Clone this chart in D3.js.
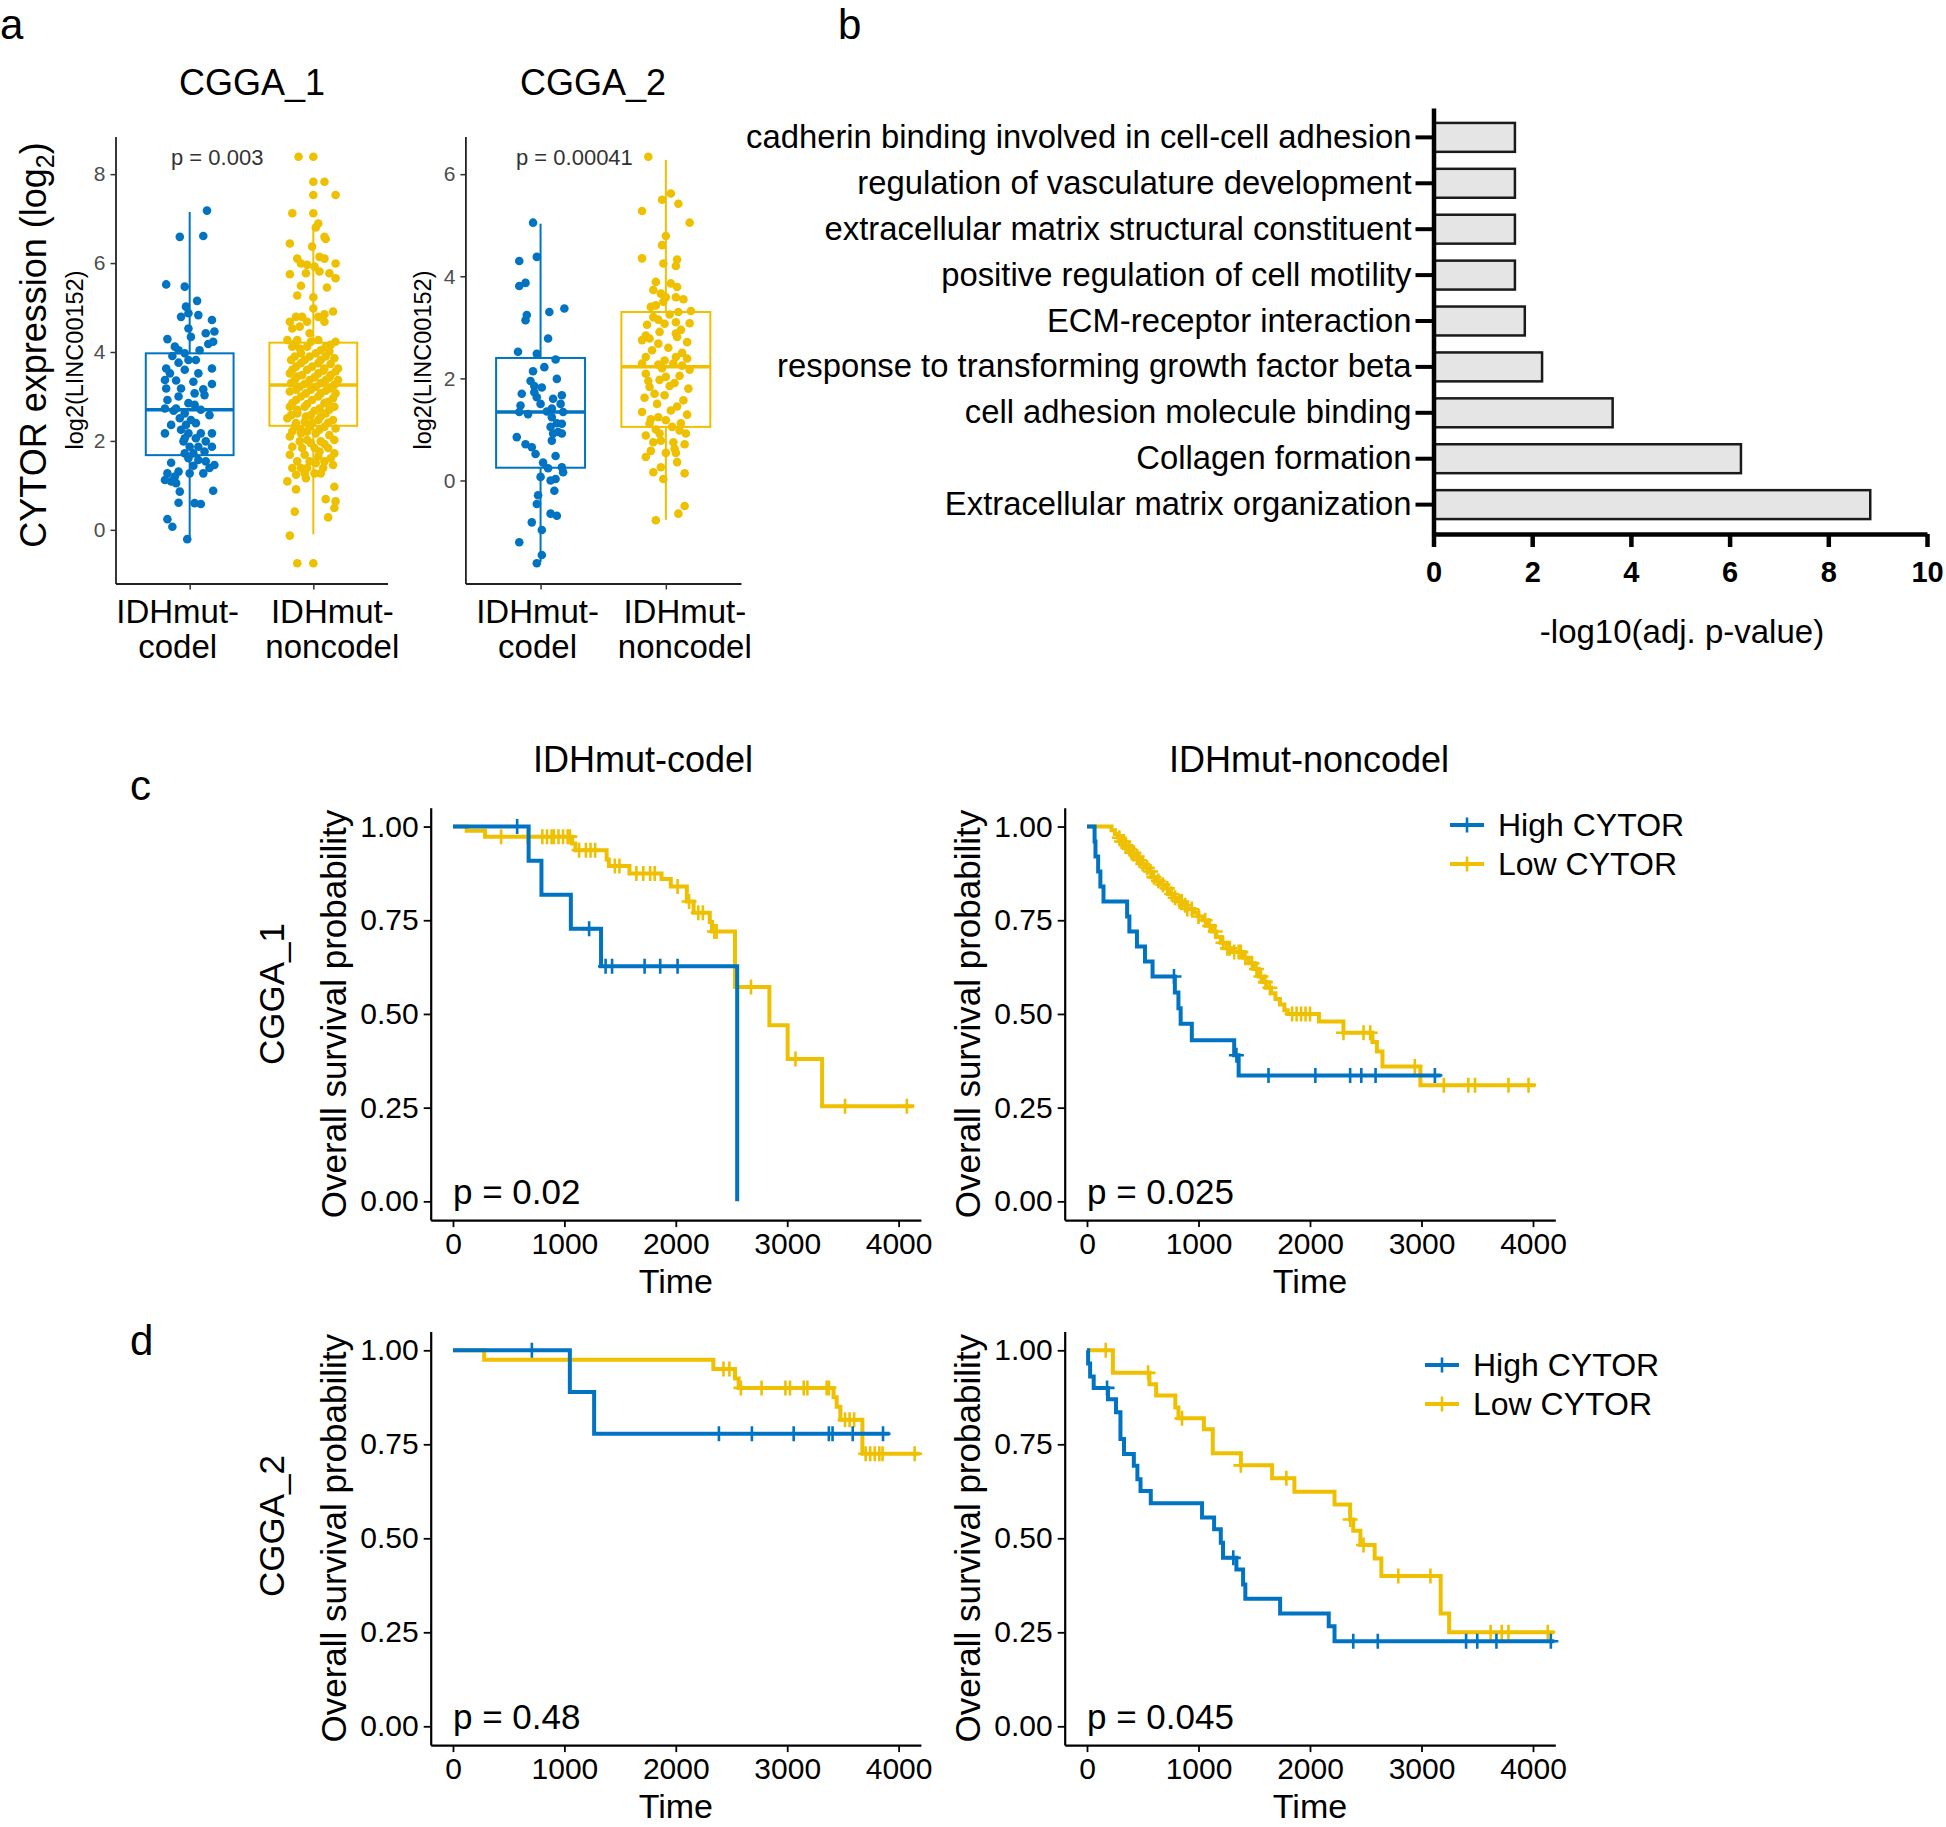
<!DOCTYPE html>
<html><head><meta charset="utf-8">
<script src="https://cdn.jsdelivr.net/npm/d3@7"></script>
<style>
body{margin:0;background:#fff}
svg{display:block}
text{font-family:"Liberation Sans", Arial, Helvetica, sans-serif}
</style>
</head><body>
<svg id="fig" width="1946" height="1827"></svg>
<script>
// ---------------- DATA ----------------
const BLUE = "#0073C2", YELLOW = "#EFC000";

// Panel a: boxplots
const boxTitles = ["CGGA_1", "CGGA_2"];
const boxCategories = ["IDHmut-codel", "IDHmut-noncodel"];
const boxPValues = ["p = 0.003", "p = 0.00041"];
const boxTicks1 = [0, 2, 4, 6, 8];
const boxTicks2 = [0, 2, 4, 6];
// [lower whisker, Q1, median, Q3, upper whisker]
const cgga1Box = [[-0.21, 1.68, 2.70, 3.97, 7.15], [-0.10, 2.34, 3.26, 4.21, 6.80]];
const cgga2Box = [[-1.60, 0.25, 1.34, 2.40, 5.03], [-0.77, 1.05, 2.23, 3.30, 6.28]];
// points: [jitter offset (category units), log2 value]
const cgga1Codel = [[0.14,7.18],[-0.08,6.59],[0.11,6.61],[-0.19,5.52],[-0.04,5.47],[0.06,5.15],[-0.03,5.02],[-0.07,4.79],[-0.01,4.87],[0.07,4.83],[0.18,4.72],[-0.01,4.53],[0.13,4.42],[0.20,4.46],[-0.18,4.29],[0.01,4.34],[0.19,4.23],[0.15,4.18],[-0.12,4.12],[-0.09,4.04],[-0.04,3.97],[0.08,4.04],[-0.14,3.91],[-0.01,3.82],[0.05,3.82],[-0.19,3.63],[-0.09,3.76],[-0.04,3.60],[0.18,3.63],[0.07,3.52],[-0.16,3.52],[-0.20,3.37],[-0.11,3.36],[0.03,3.33],[0.18,3.28],[-0.19,3.18],[-0.07,3.18],[0.11,3.16],[0.04,3.07],[-0.09,3.00],[-0.18,2.92],[0.12,3.03],[-0.01,2.85],[0.04,2.81],[-0.11,2.73],[-0.13,2.68],[-0.20,2.73],[-0.04,2.62],[0.09,2.70],[0.16,2.58],[-0.08,2.51],[0.01,2.47],[-0.15,2.36],[-0.03,2.36],[0.05,2.40],[-0.07,2.25],[-0.20,2.17],[-0.01,2.17],[0.09,2.17],[0.18,2.17],[-0.04,2.06],[0.05,2.06],[-0.05,1.99],[0.13,1.99],[0.00,1.87],[0.07,1.87],[0.18,1.87],[-0.04,1.72],[0.03,1.72],[0.12,1.76],[-0.01,1.61],[0.07,1.57],[-0.15,1.51],[0.13,1.54],[0.20,1.46],[0.03,1.44],[0.16,1.39],[-0.09,1.31],[0.00,1.27],[0.11,1.27],[-0.18,1.27],[-0.12,1.20],[-0.20,1.12],[-0.15,1.09],[-0.11,1.05],[-0.08,0.86],[0.19,0.88],[-0.09,0.61],[0.04,0.60],[0.09,0.58],[-0.18,0.24],[-0.14,0.07],[-0.02,-0.21]];
const cgga1Noncodel = [[-0.12,8.39],[0.00,8.39],[0.00,7.83],[0.09,7.83],[0.00,7.53],[0.18,7.53],[-0.17,7.12],[0.00,7.12],[0.04,6.89],[0.02,6.80],[0.09,6.59],[0.10,6.54],[-0.19,6.44],[-0.01,6.37],[-0.13,6.10],[0.05,6.14],[0.09,6.10],[-0.10,5.99],[-0.05,5.96],[0.18,5.99],[0.01,5.92],[-0.19,5.75],[-0.06,5.77],[0.05,5.81],[0.13,5.77],[0.18,5.66],[-0.10,5.49],[0.11,5.45],[-0.13,5.27],[0.00,5.23],[0.00,4.98],[0.16,4.91],[0.09,4.85],[-0.14,4.79],[-0.09,4.79],[0.04,4.79],[-0.19,4.68],[-0.05,4.68],[0.09,4.68],[-0.17,4.53],[-0.11,4.57],[-0.03,4.42],[-0.21,4.27],[-0.13,4.27],[0.04,4.27],[0.18,4.23],[-0.17,4.12],[-0.05,4.12],[0.10,4.12],[-0.10,3.97],[0.02,3.97],[0.13,4.01],[-0.18,3.82],[-0.07,3.82],[0.06,3.82],[0.17,3.86],[-0.14,3.67],[-0.01,3.67],[0.09,3.63],[0.20,3.63],[-0.19,3.52],[-0.09,3.48],[0.04,3.52],[0.14,3.48],[-0.15,3.37],[-0.03,3.37],[0.10,3.37],[0.20,3.37],[-0.11,3.22],[0.02,3.22],[0.13,3.18],[-0.19,3.11],[-0.06,3.07],[0.06,3.07],[0.18,3.07],[-0.14,2.92],[-0.01,2.92],[0.12,2.88],[-0.19,2.77],[-0.07,2.77],[0.05,2.73],[0.17,2.77],[-0.13,2.62],[-0.02,2.58],[0.10,2.62],[-0.21,2.51],[-0.07,2.43],[0.04,2.47],[0.16,2.47],[-0.15,2.32],[-0.03,2.32],[0.09,2.32],[0.18,2.28],[-0.10,2.17],[0.02,2.17],[0.13,2.13],[-0.19,2.10],[-0.05,2.02],[0.06,1.99],[0.17,2.02],[-0.17,1.87],[0.01,1.84],[0.12,1.84],[-0.19,1.69],[-0.07,1.69],[0.04,1.65],[0.17,1.72],[-0.13,1.54],[-0.03,1.54],[0.09,1.54],[-0.17,1.39],[-0.05,1.39],[0.08,1.39],[0.16,1.46],[-0.14,1.24],[0.01,1.27],[-0.21,1.09],[-0.06,1.16],[0.17,0.97],[-0.14,0.91],[0.10,0.69],[0.18,0.64],[0.17,0.49],[-0.15,0.41],[0.12,0.28],[-0.19,-0.13],[-0.13,-0.75],[0.00,-0.75],
[-0.15,4.19],[-0.02,4.23],[0.14,4.16],[-0.11,4.08],[0.06,4.04],[-0.15,3.90],[-0.03,3.90],[0.10,3.90],[-0.10,3.75],[0.04,3.75],[0.14,3.73],[-0.17,3.60],[-0.05,3.60],[0.08,3.58],[0.18,3.56],[-0.13,3.45],[0.01,3.43],[0.13,3.43],[-0.18,3.30],[-0.07,3.28],[0.06,3.30],[0.17,3.26],[-0.14,3.15],[-0.02,3.15],[0.10,3.13],[-0.10,3.00],[0.04,3.00],[0.16,2.96],[-0.17,2.85],[-0.05,2.83],[0.09,2.85],[-0.13,2.70],[0.01,2.68],[0.13,2.70],[-0.18,2.58],[-0.06,2.55],[0.06,2.55],[-0.14,2.40],[-0.01,2.40],[0.12,2.41],[-0.10,2.25],[0.05,2.25],[-0.05,2.21],[-0.17,2.21],[-0.11,1.99],[-0.02,1.95],[0.09,1.93],[-0.09,1.84],[0.05,1.76],[0.14,1.61],[-0.10,1.39],[0.02,1.50],[-0.07,1.27],[0.06,1.27]];
const cgga2Codel = [[-0.06,5.05],[-0.17,4.30],[-0.03,4.38],[-0.17,3.81],[-0.12,3.87],[-0.11,3.24],[-0.12,3.14],[0.07,3.30],[0.19,3.37],[0.06,2.78],[-0.18,2.52],[-0.03,2.48],[0.12,2.37],[-0.06,2.14],[0.03,2.22],[-0.08,1.95],[0.13,1.99],[-0.15,1.70],[-0.05,1.73],[0.01,1.82],[-0.03,1.63],[0.17,1.67],[0.00,1.50],[-0.16,1.47],[0.09,1.41],[-0.17,1.34],[0.18,1.34],[0.09,1.24],[0.13,1.12],[0.17,1.11],[-0.19,0.85],[0.10,0.92],[0.17,0.92],[-0.12,0.71],[-0.07,0.65],[-0.04,0.52],[0.09,0.78],[0.12,0.48],[0.06,0.24],[0.17,0.26],[0.00,0.07],[0.08,0.00],[0.12,0.03],[0.18,0.16],[0.11,-0.20],[-0.02,-0.29],[-0.03,-0.46],[0.08,-0.65],[0.13,-0.69],[-0.07,-0.82],[0.01,-0.97],[-0.17,-1.21],[0.01,-1.46],[-0.03,-1.62],[0.16,1.50],[0.05,1.35],[0.10,1.60],[-0.05,1.85],[0.02,0.35],[0.08,1.05],[-0.10,1.30],[0.14,0.95]];
const cgga2Noncodel = [[-0.14,6.34],[0.04,5.62],[-0.03,5.50],[0.10,5.42],[-0.19,5.28],[0.19,5.05],[0.00,4.79],[-0.03,4.61],[-0.19,4.35],[-0.02,4.25],[0.09,4.33],[0.08,4.20],[-0.08,3.89],[0.04,3.86],[0.09,3.79],[-0.10,3.73],[-0.04,3.66],[0.00,3.59],[0.08,3.59],[-0.02,3.50],[-0.12,3.40],[-0.08,3.43],[0.20,3.32],[0.10,3.30],[-0.10,3.20],[-0.01,3.07],[0.08,3.10],[0.19,3.08],[-0.16,2.84],[-0.05,2.91],[0.08,2.88],[-0.19,2.75],[-0.13,2.78],[-0.06,2.68],[0.17,2.71],[0.09,2.81],[-0.16,2.42],[0.08,2.42],[0.17,2.39],[-0.19,2.29],[-0.06,2.27],[0.06,2.29],[0.19,2.17],[-0.16,2.09],[0.00,2.03],[-0.05,1.97],[0.07,1.91],[-0.13,1.83],[-0.09,1.70],[-0.01,1.67],[0.14,1.57],[-0.19,1.34],[0.04,1.37],[-0.06,1.24],[0.17,1.29],[-0.13,1.11],[0.00,1.18],[0.12,1.12],[-0.16,0.88],[-0.05,0.92],[0.16,0.92],[-0.10,0.75],[0.06,0.75],[-0.04,0.78],[0.15,0.71],[0.00,0.54],[0.08,0.54],[-0.16,0.46],[0.09,0.36],[-0.10,0.16],[-0.04,0.26],[0.15,0.14],[-0.02,0.03],[0.15,-0.50],[0.10,-0.65],[-0.08,-0.78],
[-0.11,2.55],[0.02,2.60],[0.13,2.50],[-0.03,2.20],[0.11,2.05],[-0.14,1.95],[0.03,1.85],[-0.07,1.50],[0.09,1.45],[-0.12,1.20],[0.05,1.05],[-0.08,1.00],[0.11,0.98],[-0.15,3.05],[0.03,3.25],[0.14,3.55],[-0.06,3.15],[0.12,2.95],[-0.17,1.62],[0.18,1.80],[0.07,0.62],[-0.12,0.58],[0.13,2.25],[-0.01,2.35]];

// Panel b: enrichment bars
const goTerms = ["cadherin binding involved in cell-cell adhesion","regulation of vasculature development","extracellular matrix structural constituent","positive regulation of cell motility","ECM-receptor interaction","response to transforming growth factor beta","cell adhesion molecule binding","Collagen formation","Extracellular matrix organization"];
const goValues = [1.65, 1.65, 1.65, 1.65, 1.85, 2.20, 3.63, 6.23, 8.85];
const goTicks = [0, 2, 4, 6, 8, 10];

// Panels c, d: Kaplan-Meier curves, steps = [time, survival]
const kmYTicks = [0, 0.25, 0.5, 0.75, 1];
const kmXTicks = [0, 1000, 2000, 3000, 4000];
const kmLegend = ["High CYTOR", "Low CYTOR"];
const kmColTitles = ["IDHmut-codel", "IDHmut-noncodel"];
const kmRowTitles = ["CGGA_1", "CGGA_2"];
const kmPValues = ["p = 0.02", "p = 0.025", "p = 0.48", "p = 0.045"];

const c1cHighSteps = [[0,1],[679,0.909],[794,0.818],[1058,0.727],[1329,0.627],[2551,0]];
const c1cHighEnd = 2551;
const c1cHighCensor = [576,1222,1370,1428,1720,1860,2016];
const c1cLowSteps = [[0,1],[123,0.989],[288,0.973],[1070,0.955],[1099,0.937],[1379,0.912],[1399,0.895],[1584,0.875],[1872,0.86],[1955,0.84],[2099,0.80],[2160,0.77],[2305,0.745],[2325,0.72],[2531,0.572],[2840,0.47],[3004,0.38],[3313,0.254]];
const c1cLowEnd = 4136;
const c1cLowCensor = [432,671,802,844,885,905,947,988,1029,1049,1132,1193,1235,1276,1453,1494,1646,1708,1770,1811,2016,2119,2202,2243,2346,2366,2675,3074,3519,4074];

const c1nHighSteps = [[0,1],[68,0.96],[76,0.92],[100,0.88],[120,0.84],[148,0.80],[360,0.76],[380,0.72],[448,0.68],[520,0.64],[588,0.60],[788,0.557],[820,0.515],[840,0.474],[940,0.43],[1320,0.39],[1360,0.336]];
const c1nHighEnd = 3172;
const c1nHighCensor = [780,1340,1628,2048,2360,2460,2588,3120];
const c1nLowSteps = [[0,1],[220,0.99],[250,0.98],[280,0.97],[310,0.96],[340,0.95],[370,0.94],[400,0.93],[430,0.92],[460,0.91],[490,0.90],[520,0.89],[550,0.88],[580,0.865],[610,0.855],[660,0.845],[700,0.835],[740,0.82],[780,0.81],[810,0.80],[860,0.79],[900,0.78],[960,0.77],[1000,0.76],[1040,0.75],[1080,0.735],[1120,0.72],[1160,0.705],[1200,0.69],[1250,0.675],[1300,0.665],[1400,0.65],[1450,0.635],[1500,0.62],[1540,0.60],[1580,0.585],[1610,0.57],[1650,0.555],[1690,0.54],[1730,0.525],[1770,0.51],[1800,0.50],[2080,0.48],[2300,0.45],[2560,0.425],[2600,0.40],[2650,0.36],[2990,0.31]];
const c1nLowEnd = 4020;
const c1nLowCensor = [290,310,330,350,380,400,420,450,470,500,540,570,600,640,680,720,760,790,830,850,880,900,940,1000,1060,1100,1150,1220,1260,1280,1320,1360,1380,1420,1480,1520,1560,1600,1640,1840,1880,1920,1960,2000,2300,2480,2540,2940,3200,3420,3480,3780,3960];

const c2cHighSteps = [[0,1],[1049,0.889],[1267,0.778]];
const c2cHighEnd = 3918;
const c2cHighCensor = [708,2387,2683,3058,3374,3407,3588,3860];
const c2cLowSteps = [[0,1],[280,0.975],[2337,0.95],[2531,0.925],[2564,0.90],[3416,0.875],[3444,0.85],[3477,0.815],[3675,0.725]];
const c2cLowEnd = 4189;
const c2cLowCensor = [2428,2481,2584,2770,2984,3025,3148,3181,3354,3374,3519,3560,3601,3704,3745,3786,3827,3856,4144];

const c2nHighSteps = [[0,1],[10,0.965],[28,0.93],[60,0.90],[188,0.87],[260,0.835],[300,0.764],[332,0.724],[420,0.693],[452,0.657],[480,0.626],[572,0.593],[1032,0.555],[1140,0.524],[1200,0.488],[1220,0.448],[1340,0.417],[1400,0.377],[1420,0.339],[1732,0.30],[2168,0.266],[2220,0.226]];
const c2nHighEnd = 4192;
const c2nHighCensor = [180,1312,2388,2608,3400,3500,3672,4160];
const c2nLowSteps = [[0,1],[232,0.94],[560,0.91],[620,0.88],[792,0.848],[820,0.819],[1048,0.79],[1128,0.726],[1380,0.694],[1660,0.66],[1860,0.624],[2220,0.59],[2360,0.55],[2388,0.52],[2452,0.482],[2580,0.446],[2640,0.40],[3172,0.30],[3248,0.25]];
const c2nLowEnd = 4192;
const c2nLowCensor = [168,548,852,1380,1788,2360,2480,2792,3080,3620,3720,3780,4132];

// ---------------- DRAWING ----------------
const svg = d3.select("#fig");
svg.append("rect").attr("width", 1946).attr("height", 1827).attr("fill", "#fff");

function txt(g, s, x, y, size, o = {}) {
  const t = g.append("text").attr("x", x).attr("y", y).attr("font-size", size)
    .attr("fill", o.fill || "#000").attr("text-anchor", o.anchor || "start").text(s);
  if (o.weight) t.attr("font-weight", o.weight);
  if (o.rotate) t.attr("transform", `rotate(-90,${x},${y})`);
  if (o.baseline) t.attr("dominant-baseline", o.baseline);
  return t;
}

// panel letters
txt(svg, "a", 0, 39, 42);
txt(svg, "b", 838, 39, 42);
txt(svg, "c", 130, 800, 42);
txt(svg, "d", 130, 1355, 42);

// ----- Panel a -----
const boxPanels = [
  { title: boxTitles[0], titleX: 252, stats: cgga1Box, pts: [cgga1Codel, cgga1Noncodel], ticks: boxTicks1, p: boxPValues[0], pX: 171, xr: [115.5, 387.5], ylabX: 83, labShift: [-12, 19] },
  { title: boxTitles[1], titleX: 593, stats: cgga2Box, pts: [cgga2Codel, cgga2Noncodel], ticks: boxTicks2, p: boxPValues[1], pX: 516, xr: [465.4, 741], ylabX: 431, labShift: [-3, 19] }
];
const boxColors = [BLUE, YELLOW];
const boxY0 = 583.5, boxY1 = 136.5;

boxPanels.forEach(P => {
  const g = svg.append("g");
  const allV = P.pts.flat().map(d => d[1]);
  const mn = d3.min(allV), mx = d3.max(allV), pad = (mx - mn) * 0.05;
  const y = d3.scaleLinear().domain([mn - pad, mx + pad]).range([boxY0, boxY1]);
  const x = d3.scaleLinear().domain([0.4, 2.6]).range(P.xr);

  P.stats.forEach((s, i) => {
    const ci = i + 1, cx = x(ci), hw = x(ci + 0.355) - cx, col = boxColors[i];
    const [lo, q1, med, q3, hi] = s;
    g.append("line").attr("x1", cx).attr("x2", cx).attr("y1", y(hi)).attr("y2", y(q3)).attr("stroke", col).attr("stroke-width", 2);
    g.append("line").attr("x1", cx).attr("x2", cx).attr("y1", y(q1)).attr("y2", y(lo)).attr("stroke", col).attr("stroke-width", 2);
    g.append("rect").attr("x", cx - hw).attr("y", y(q3)).attr("width", 2 * hw).attr("height", y(q1) - y(q3))
      .attr("fill", "#fff").attr("stroke", col).attr("stroke-width", 2);
    g.append("line").attr("x1", cx - hw).attr("x2", cx + hw).attr("y1", y(med)).attr("y2", y(med)).attr("stroke", col).attr("stroke-width", 3.5);
    g.selectAll(null).data(P.pts[i]).join("circle")
      .attr("cx", d => x(ci + d[0])).attr("cy", d => y(d[1])).attr("r", 4.3).attr("fill", col);
  });

  const ya = g.append("g").attr("transform", `translate(${P.xr[0]},0)`)
    .call(d3.axisLeft(y).tickValues(P.ticks).tickSize(5).tickSizeOuter(0).tickPadding(5));
  ya.selectAll("text").attr("font-size", 21).attr("fill", "#4d4d4d");
  ya.selectAll("line").attr("stroke", "#333").attr("stroke-width", 1.5);
  ya.select(".domain").attr("stroke", "#222").attr("stroke-width", 1.8);
  const xa = g.append("g").attr("transform", `translate(0,${boxY0})`)
    .call(d3.axisBottom(x).tickValues([1, 2]).tickFormat("").tickSize(6).tickSizeOuter(0));
  xa.selectAll("line").attr("stroke", "#333").attr("stroke-width", 1.5);
  xa.select(".domain").attr("stroke", "#222").attr("stroke-width", 1.8);

  boxCategories.forEach((c, i) => {
    const k = c.indexOf("-");
    const lx = x(i + 1) + P.labShift[i];
    txt(g, c.slice(0, k + 1), lx, 623, 33, { anchor: "middle" });
    txt(g, c.slice(k + 1), lx, 658, 33, { anchor: "middle" });
  });
  txt(g, P.title, P.titleX, 95, 36, { anchor: "middle" });
  txt(g, P.p, P.pX, 165, 22, { fill: "#333" });
  txt(g, "log2(LINC00152)", P.ylabX, 360, 23.5, { anchor: "middle", rotate: true });
});
// main y-title with subscript
{
  const t = svg.append("text").attr("x", 46).attr("y", 345).attr("font-size", 36).attr("text-anchor", "middle")
    .attr("transform", "rotate(-90,46,345)");
  t.append("tspan").text("CYTOR expression (log");
  t.append("tspan").text("2").attr("font-size", 25).attr("dy", 8);
  t.append("tspan").text(")").attr("dy", -8);
}

// ----- Panel b -----
{
  const g = svg.append("g");
  const x = d3.scaleLinear().domain([0, 10]).range([1433.5, 1927]);
  const yb = d3.scaleBand().domain(goTerms).range([108, 534]).paddingInner(0.37).paddingOuter(0.325);
  g.selectAll(null).data(goTerms).join("rect")
    .attr("x", x(0)).attr("y", d => yb(d)).attr("width", (d, i) => x(goValues[i]) - x(0)).attr("height", yb.bandwidth())
    .attr("fill", "#e5e5e5").attr("stroke", "#1a1a1a").attr("stroke-width", 2.5);
  const ya = g.append("g").attr("transform", `translate(${x(0)},0)`)
    .call(d3.axisLeft(yb).tickSize(18).tickSizeOuter(0).tickPadding(4));
  ya.selectAll("text").attr("font-size", 32.8).attr("fill", "#000");
  ya.selectAll("line").attr("stroke", "#000").attr("stroke-width", 4);
  ya.select(".domain").attr("stroke", "#000").attr("stroke-width", 4.5);
  const xa = g.append("g").attr("transform", `translate(0,534)`)
    .call(d3.axisBottom(x).tickValues(goTicks).tickSize(13).tickSizeOuter(0).tickPadding(14));
  xa.selectAll("text").attr("font-size", 29).attr("font-weight", "bold").attr("fill", "#000");
  xa.selectAll("line").attr("stroke", "#000").attr("stroke-width", 4.5);
  xa.select(".domain").attr("stroke", "#000").attr("stroke-width", 4.5);
  txt(g, "-log10(adj. p-value)", 1682, 643, 33, { anchor: "middle" });
}

// ----- Panels c, d -----
const kmPanels = [
  { xr: [430.7, 920.9], yr: [1220.1, 807.8], curves: [[c1cHighSteps, c1cHighEnd, c1cHighCensor], [c1cLowSteps, c1cLowEnd, c1cLowCensor]], p: kmPValues[0], ylabX: 346, legend: null },
  { xr: [1064.7, 1555.3], yr: [1220.1, 807.8], curves: [[c1nHighSteps, c1nHighEnd, c1nHighCensor], [c1nLowSteps, c1nLowEnd, c1nLowCensor]], p: kmPValues[1], ylabX: 980, legend: [1450, 825] },
  { xr: [430.7, 920.9], yr: [1745.1, 1331.5], curves: [[c2cHighSteps, c2cHighEnd, c2cHighCensor], [c2cLowSteps, c2cLowEnd, c2cLowCensor]], p: kmPValues[2], ylabX: 346, legend: null },
  { xr: [1064.7, 1555.3], yr: [1745.1, 1331.5], curves: [[c2nHighSteps, c2nHighEnd, c2nHighCensor], [c2nLowSteps, c2nLowEnd, c2nLowCensor]], p: kmPValues[3], ylabX: 980, legend: [1425, 1365] }
];
const kmColors = [BLUE, YELLOW];

function cross(g, cx, cy, col, s = 7.5) {
  g.append("path").attr("d", `M${cx - s},${cy}H${cx + s}M${cx},${cy - s}V${cy + s}`)
    .attr("stroke", col).attr("stroke-width", 2.6).attr("fill", "none");
}

kmPanels.forEach(P => {
  const g = svg.append("g");
  const x = d3.scaleLinear().domain([-200, 4200]).range(P.xr);
  const y = d3.scaleLinear().domain([-0.05, 1.05]).range(P.yr);
  [1, 0].forEach(ci => {
    const [steps, end, cens] = P.curves[ci];
    const col = kmColors[ci];
    const pts = steps.slice();
    const last = steps[steps.length - 1];
    if (end > last[0]) pts.push([end, last[1]]);
    g.append("path").datum(pts)
      .attr("d", d3.line().x(d => x(d[0])).y(d => y(d[1])).curve(d3.curveStepAfter))
      .attr("fill", "none").attr("stroke", col).attr("stroke-width", 4).attr("stroke-linejoin", "miter");
    cens.forEach(t => {
      let s = 1;
      steps.forEach(d => { if (d[0] <= t) s = d[1]; });
      cross(g, x(t), y(s), col);
    });
  });
  const ya = g.append("g").attr("transform", `translate(${P.xr[0]},0)`)
    .call(d3.axisLeft(y).tickValues(kmYTicks).tickFormat(d3.format(".2f")).tickSize(7).tickSizeOuter(0).tickPadding(5));
  ya.selectAll("text").attr("font-size", 30).attr("fill", "#000");
  ya.selectAll("line").attr("stroke", "#000").attr("stroke-width", 1.8);
  ya.select(".domain").attr("stroke", "#000").attr("stroke-width", 2.2);
  const xa = g.append("g").attr("transform", `translate(0,${P.yr[0]})`)
    .call(d3.axisBottom(x).tickValues(kmXTicks).tickFormat(d => d).tickSize(7).tickSizeOuter(0).tickPadding(6));
  xa.selectAll("text").attr("font-size", 30).attr("fill", "#000");
  xa.selectAll("line").attr("stroke", "#000").attr("stroke-width", 1.8);
  xa.select(".domain").attr("stroke", "#000").attr("stroke-width", 2.2);

  txt(g, "Time", x(2000), P.yr[0] + 73, 34, { anchor: "middle" });
  txt(g, P.p, x(0), y(0) + 3, 35);
  const yc = (P.yr[0] + P.yr[1]) / 2;
  txt(g, "Overall survival probability", P.ylabX, yc, 35, { anchor: "middle", rotate: true });
  if (P.legend) {
    const [lx, ly] = P.legend;
    kmLegend.forEach((L, i) => {
      const yy = ly + i * 39;
      g.append("line").attr("x1", lx).attr("x2", lx + 34).attr("y1", yy).attr("y2", yy).attr("stroke", kmColors[i]).attr("stroke-width", 4);
      cross(g, lx + 17, yy, kmColors[i]);
      txt(g, L, lx + 48, yy, 32, { baseline: "central" });
    });
  }
});
// column and row titles
txt(svg, kmColTitles[0], 643, 772, 36, { anchor: "middle" });
txt(svg, kmColTitles[1], 1309, 772, 36, { anchor: "middle" });
txt(svg, kmRowTitles[0], 284, 994, 35, { anchor: "middle", rotate: true });
txt(svg, kmRowTitles[1], 284, 1526, 35, { anchor: "middle", rotate: true });
</script>
</body></html>
